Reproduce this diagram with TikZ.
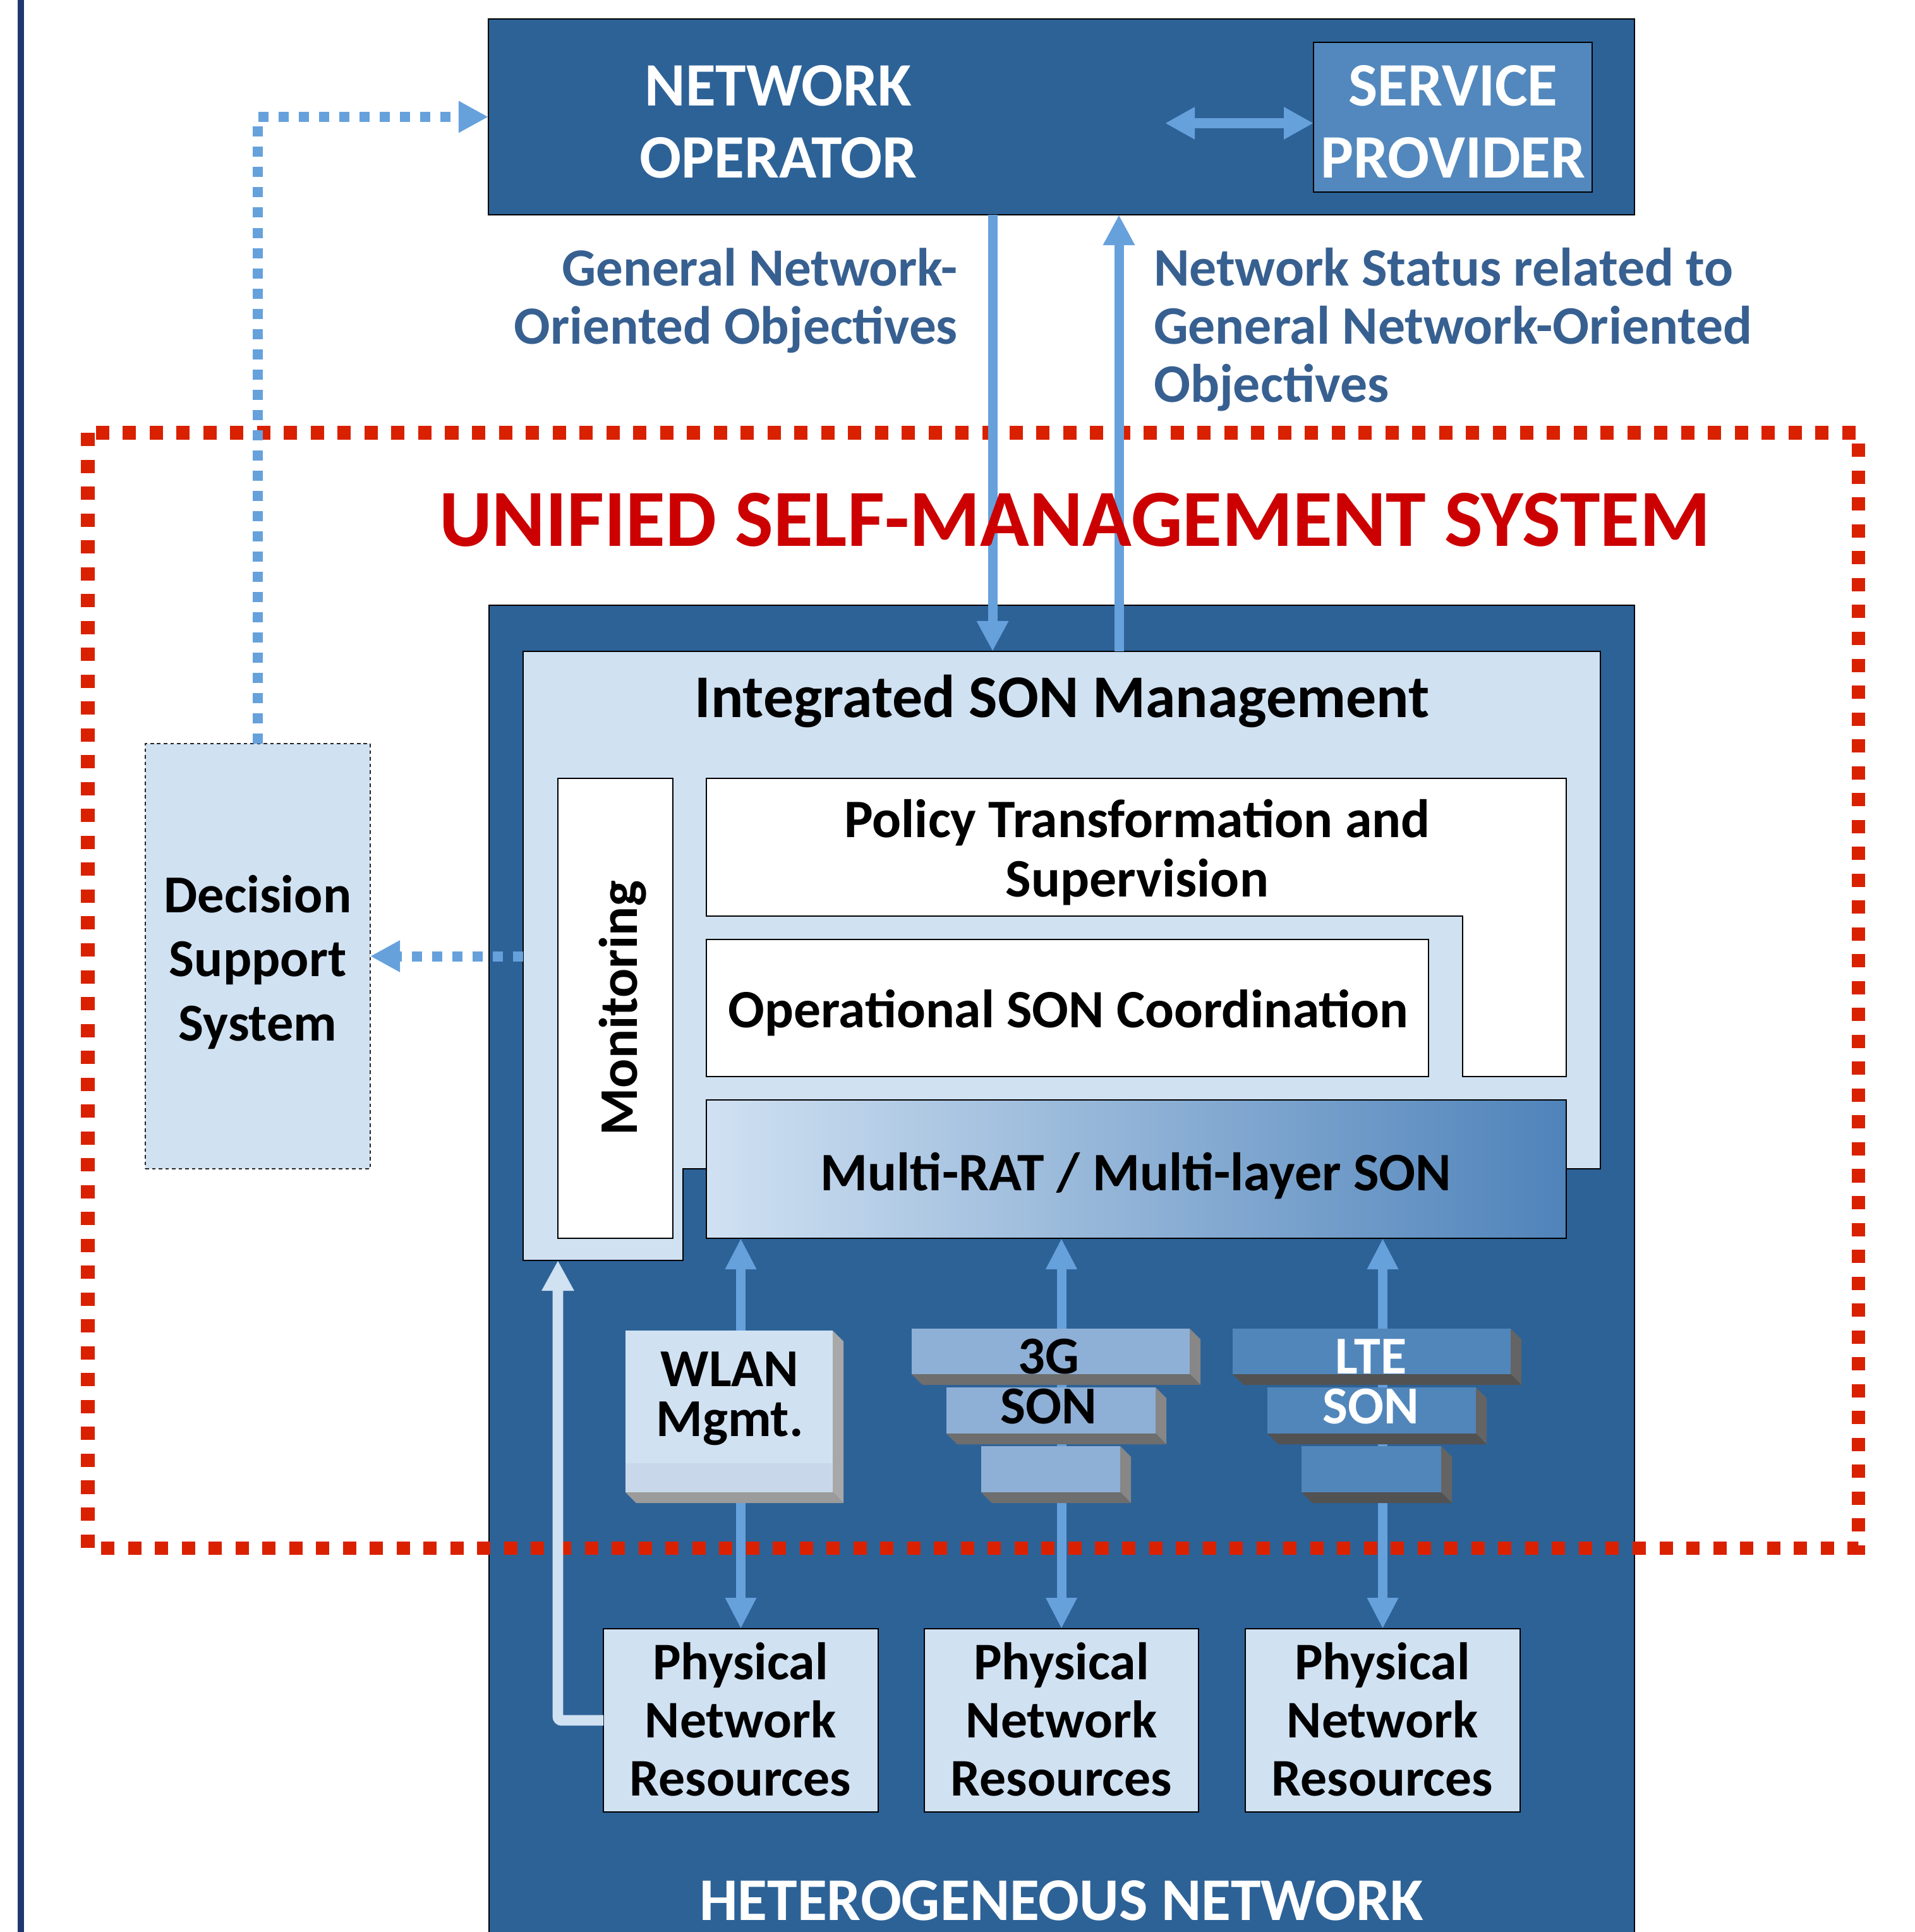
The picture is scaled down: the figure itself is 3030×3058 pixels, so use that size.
\documentclass[tikz,border=0pt]{standalone}
\usepackage{fontspec}
\setmainfont{Carlito}
\usetikzlibrary{arrows.meta,fit,calc}

\definecolor{hetblue}{RGB}{45,98,151}
\definecolor{spblue}{RGB}{82,136,189}
\definecolor{lightfill}{RGB}{208,225,242}
\definecolor{arrowblue}{RGB}{102,161,220}
\definecolor{labelblue}{RGB}{55,96,145}
\definecolor{titlered}{RGB}{204,0,0}
\definecolor{dotred}{RGB}{217,33,0}
\definecolor{navyline}{RGB}{31,56,110}
\definecolor{mratdark}{RGB}{79,131,186}
\definecolor{mratmid}{RGB}{146,179,216}
\definecolor{tgfront}{RGB}{143,176,214}
\definecolor{tgside}{RGB}{135,135,135}
\definecolor{tgbottom}{RGB}{110,110,110}
\definecolor{ltefront}{RGB}{81,134,187}
\definecolor{lteside}{RGB}{100,100,100}
\definecolor{ltebottom}{RGB}{82,82,82}
\definecolor{wlanstrip}{RGB}{200,216,234}
\definecolor{wlanside}{RGB}{168,168,168}
\definecolor{wlanbottom}{RGB}{155,155,155}

% multi-line text blocks whose reference point is the first baseline
\newcommand{\mlc}[1]{\begin{tabular}[t]{@{}c@{}}#1\end{tabular}}
\newcommand{\mlr}[1]{\begin{tabular}[t]{@{}r@{}}#1\end{tabular}}
\newcommand{\mll}[1]{\begin{tabular}[t]{@{}l@{}}#1\end{tabular}}

% extruded slab: x1,y1,x2,y2, front, side, bottom colours
\newcommand{\sonslab}[7]{%
  \fill[#6] (#3,#2) -- (#3+17,#2+17) -- (#3+17,#4+17) -- (#3,#4) -- cycle;
  \fill[#7] (#1,#4) -- (#3,#4) -- (#3+17,#4+17) -- (#1+17,#4+17) -- cycle;
  \fill[#5] (#1,#2) rectangle (#3,#4);
}

\begin{document}
\begin{tikzpicture}[x=0.01cm,y=-0.01cm,
  box/.style={draw=black, line width=0.6pt, inner sep=0pt, outer sep=0pt},
  area/.style={inner sep=0pt, outer sep=0pt},
  lbl/.style={inner sep=0pt, outer sep=0pt, font=\bfseries},
  arr/.style={draw=arrowblue, line width=4.27pt,
    -{Triangle[length=0.48cm,width=0.47cm]}},
  dblarr/.style={draw=arrowblue, line width=4.27pt,
    {Triangle[length=0.49cm,width=0.46cm]}-{Triangle[length=0.49cm,width=0.46cm]}},
  wideblarr/.style={draw=arrowblue, line width=4.55pt,
    {Triangle[length=0.47cm,width=0.48cm]}-{Triangle[length=0.47cm,width=0.48cm]}},
  dotarr/.style={draw=arrowblue, line width=4.55pt,
    dash pattern=on 0.16cm off 0.16cm,
    -{Triangle[length=0.47cm,width=0.47cm]}},
  lightarr/.style={draw=lightfill, line width=4.8pt, rounded corners=0.06cm,
    -{Triangle[length=0.48cm,width=0.48cm]}},
  reddot/.style={draw=dotred, line width=5.98pt,
    dash pattern=on 0.21cm off 0.215cm}
]
\useasboundingbox (0,0) rectangle (3030,3058);
\fill[white] (0,0) rectangle (3030,3058);

% left rule
\draw[navyline, line width=3.1pt] (33,0) -- (33,3058);

% heterogeneous network area
\node[box, fill=hetblue, fit={(774,958) (2587,3090)}] (het) {};

% integrated SON management (L-shaped panel)
\filldraw[fill=lightfill, draw=black, line width=0.5pt]
  (828,1031) -- (2533,1031) -- (2533,1850) -- (1081,1850) -- (1081,1995)
  -- (828,1995) -- cycle;
\node[area, fit={(828,1031) (2533,1995)}] (ism) {};

% monitoring column
\node[box, fill=white, fit={(883,1232) (1065,1960)}] (mon) {};

% policy transformation (L-shaped)
\filldraw[fill=white, draw=black, line width=0.6pt]
  (1118,1232) -- (2479,1232) -- (2479,1704) -- (2315,1704) -- (2315,1450)
  -- (1118,1450) -- cycle;
\node[area, fit={(1118,1232) (2479,1450)}] (pol) {};

% operational coordination
\node[box, fill=white, fit={(1118,1487) (2261,1704)}] (op) {};

% multi-RAT / multi-layer SON
\node[box, left color=lightfill, middle color=mratmid, right color=mratdark,
  fit={(1118,1741) (2479,1960)}] (mrat) {};

% unified self-management boundary
\draw[reddot] (139,685) rectangle (2941,2450);

% network operator and service provider
\node[box, fill=hetblue, fit={(773,30) (2587,340)}] (no) {};
\node[box, fill=spblue, fit={(2079,67) (2520,304)}] (sp) {};

% decision support system
\node[draw=black!85, line width=0.6pt, dash pattern=on 1.6pt off 1.4pt,
  fill=lightfill, inner sep=0pt, outer sep=0pt,
  fit={(230,1177) (586,1850)}] (dss) {};

% physical network resources
\node[box, fill=lightfill, fit={(955,2578) (1390,2868)}] (pnrA) {};
\node[box, fill=lightfill, fit={(1463,2578) (1897,2868)}] (pnrB) {};
\node[box, fill=lightfill, fit={(1971,2578) (2406,2868)}] (pnrC) {};

% links between the multi-RAT layer and the resources
\draw[dblarr] (pnrA.north |- mrat.south) -- (pnrA.north);
\draw[dblarr] (pnrB.north |- mrat.south) -- (pnrB.north);
\draw[dblarr] (pnrC.north |- mrat.south) -- (pnrC.north);

% WLAN management block
\sonslab{990}{2106}{1318}{2362}{lightfill}{wlanside}{wlanbottom}
\fill[wlanstrip] (990,2316) rectangle (1318,2362);
\node[area, fit={(990,2106) (1318,2362)}] (wlan) {};

% 3G SON stack
\sonslab{1443}{2103}{1883}{2175}{tgfront}{tgside}{tgbottom}
\sonslab{1498}{2196}{1829}{2269}{tgfront}{tgside}{tgbottom}
\sonslab{1553}{2289}{1773}{2362}{tgfront}{tgside}{tgbottom}

% LTE SON stack
\sonslab{1951}{2103}{2391}{2175}{ltefront}{lteside}{ltebottom}
\sonslab{2006}{2196}{2336}{2269}{ltefront}{lteside}{ltebottom}
\sonslab{2060}{2289}{2281}{2362}{ltefront}{lteside}{ltebottom}

% feedback from the resources to the management panel
\coordinate (fbx) at (883,0);
\draw[lightarr] (pnrA.west) -| (ism.south -| fbx);

% objectives down, status up
\coordinate (dnx) at (1571,0);
\coordinate (upx) at (1771,0);
\draw[arr] (no.south -| dnx) -- (ism.north -| dnx);
\draw[arr] (ism.north -| upx) -- (no.south -| upx);

% operator <-> provider
\coordinate (opl) at (1844,195);
\draw[wideblarr] (opl) -- (sp.west |- opl);

% decision support links
\draw[dotarr] (dss.north) |- (no.west);
\draw[dotarr] (dss.east -| ism.west) -- (dss.east);

% texts
\node[lbl, text=white, anchor=base] (noT) at (1232,168)
  {\fontsize{27.8}{32.4}\selectfont\mlc{NETWORK\\OPERATOR}};
\node[lbl, text=white, anchor=base] (spT) at (2300,168)
  {\fontsize{27.8}{32.4}\selectfont\mlc{SERVICE\\PROVIDER}};
\node[lbl, text=labelblue, anchor=base east] (objT) at (1516,453)
  {\fontsize{24.2}{25.9}\selectfont\mlr{General Network-\\Oriented Objectives}};
\node[lbl, text=labelblue, anchor=base west] (statT) at (1826,453)
  {\fontsize{24.4}{26.1}\selectfont\mll{Network Status related to\\General Network-Oriented\\Objectives}};
\node[lbl, text=titlered, anchor=base] (usmT) at (1701,864)
  {\fontsize{36.5}{40}\selectfont UNIFIED SELF-MANAGEMENT SYSTEM};
\node[lbl, anchor=base] (ismT) at (1681,1135)
  {\fontsize{27.3}{32}\selectfont Integrated SON Management};
\node[lbl, anchor=base] (polT) at (1800,1325)
  {\fontsize{24.4}{26.8}\selectfont\mlc{Policy Transformation and\\Supervision}};
\node[lbl, anchor=base] (opT) at (1691,1626)
  {\fontsize{24.3}{28}\selectfont Operational SON Coordination};
\node[lbl, anchor=base] (mratT) at (1798,1884)
  {\fontsize{24.4}{28}\selectfont Multi-RAT / Multi-layer SON};
\node[lbl, rotate=90, anchor=base] (monT) at (1008,1596)
  {\fontsize{24.5}{30}\selectfont Monitoring};
\node[lbl, anchor=base] (dssT) at (408,1444)
  {\fontsize{24}{28.9}\selectfont\mlc{Decision\\Support\\System}};
\node[lbl, anchor=base] (wlanT) at (1155,2194)
  {\fontsize{24}{22.5}\selectfont\mlc{WLAN\\Mgmt.}};
\node[lbl, anchor=base] (tgT) at (1660,2174)
  {\fontsize{24}{22.5}\selectfont\mlc{3G\\SON}};
\node[lbl, text=white, anchor=base] (lteT) at (2170,2174)
  {\fontsize{24}{22.5}\selectfont\mlc{LTE\\SON}};
\node[lbl, anchor=base] (pnrAT) at (1172,2658)
  {\fontsize{23.8}{26.2}\selectfont\mlc{Physical\\Network\\Resources}};
\node[lbl, anchor=base] (pnrBT) at (1680,2658)
  {\fontsize{23.8}{26.2}\selectfont\mlc{Physical\\Network\\Resources}};
\node[lbl, anchor=base] (pnrCT) at (2188,2658)
  {\fontsize{23.8}{26.2}\selectfont\mlc{Physical\\Network\\Resources}};
\node[lbl, text=white, anchor=base] (hetT) at (1680,3039)
  {\fontsize{27.3}{32}\selectfont HETEROGENEOUS NETWORK};
\end{tikzpicture}
\end{document}
